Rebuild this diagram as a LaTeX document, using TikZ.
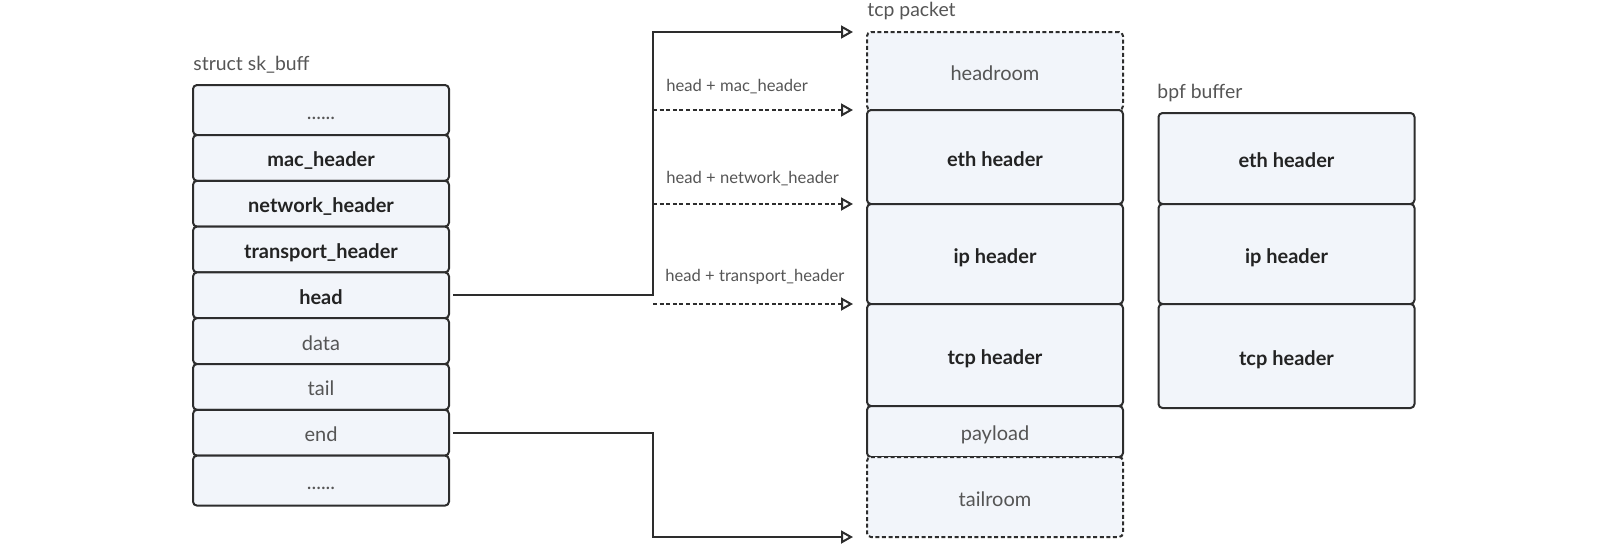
\documentclass[tikz,border=0pt]{standalone}
\usepackage{fontspec}
\setmainfont{Lato}
\usetikzlibrary{arrows.meta,positioning}
\definecolor{cellfill}{RGB}{242,245,250}
\definecolor{celledge}{RGB}{45,45,45}
\definecolor{textdark}{RGB}{35,35,35}
\definecolor{textgray}{RGB}{85,85,85}

\begin{document}
\begin{tikzpicture}[x=0.5pt,y=-0.5pt,
  cell/.style={rectangle, rounded corners=2pt, draw=celledge, fill=cellfill, line width=1pt, minimum width=128pt, inner sep=0pt, outer sep=0pt, text height=9pt, text depth=0pt, font=\fontsize{10}{12}\selectfont, text=textgray},
  hdr/.style={font=\fontsize{10}{12}\selectfont\bfseries, text=textdark},
  room/.style={dash pattern=on 2pt off 1.3pt},
  caption/.style={anchor=base west, inner sep=0pt, font=\fontsize{9.7}{11}\selectfont, text=textgray},
  ptr/.style={-{Triangle[open,length=6pt,width=6.5pt]}, line width=1pt, draw=celledge, shorten >=7pt},
  offs/.style={ptr, dash pattern=on 2pt off 1.3pt},
  offlabel/.style={anchor=base west, inner sep=0pt, font=\fontsize{8.3}{10}\selectfont, text=textgray}]
\useasboundingbox (0,0) rectangle (1614,558);

% struct sk_buff
\node[caption] (sktitle) at (193,70) {struct sk\_buff};
\node[cell, anchor=north, minimum height=25pt] (skdots1) at (321,85) {......};
\node[cell, hdr, minimum height=22.9pt, below=0pt of skdots1] (machdr) {mac\_header};
\node[cell, hdr, minimum height=22.9pt, below=0pt of machdr] (nethdr) {network\_header};
\node[cell, hdr, minimum height=22.9pt, below=0pt of nethdr] (transhdr) {transport\_header};
\node[cell, hdr, minimum height=22.9pt, below=0pt of transhdr] (head) {head};
\node[cell, minimum height=22.9pt, below=0pt of head] (data) {data};
\node[cell, minimum height=22.9pt, below=0pt of data] (tail) {tail};
\node[cell, minimum height=22.9pt, below=0pt of tail] (endf) {end};
\node[cell, minimum height=25pt, below=0pt of endf] (skdots2) {......};

% tcp packet
\node[caption] (tcptitle) at (867,16) {tcp packet};
\node[cell, room, anchor=north, minimum height=39pt] (headroom) at (995,32) {headroom};
\node[cell, hdr, minimum height=47pt, below=0pt of headroom] (etheth) {eth header};
\node[cell, hdr, minimum height=50pt, below=0pt of etheth] (iphdr) {ip header};
\node[cell, hdr, minimum height=51pt, below=0pt of iphdr] (tcphdr) {tcp header};
\node[cell, minimum height=25.5pt, below=0pt of tcphdr] (payload) {payload};
\node[cell, room, minimum height=40pt, below=0pt of payload] (tailroom) {tailroom};

% bpf buffer
\node[caption] (bpftitle) at (1157,98) {bpf buffer};
\node[cell, hdr, anchor=north, minimum height=45.5pt] (bpfeth) at (1286.5,113) {eth header};
\node[cell, hdr, minimum height=50pt, below=0pt of bpfeth] (bpfip) {ip header};
\node[cell, hdr, minimum height=52pt, below=0pt of bpfip] (bpftcp) {tcp header};

% pointers
\coordinate (bus) at (653,0);
\draw[ptr, shorten <=2pt] (head.east) -- (head.east -| bus) |- (headroom.north west);
\draw[ptr, shorten <=2pt] (endf.east) -- (endf.east -| bus) |- (tailroom.south west);
\draw[offs] (bus |- etheth.north west) -- (etheth.north west);
\draw[offs] (bus |- iphdr.north west) -- (iphdr.north west);
\draw[offs] (bus |- tcphdr.north west) -- (tcphdr.north west);
\node[offlabel] (macoff) at (666,91) {head + mac\_header};
\node[offlabel] (netoff) at (666,183) {head + network\_header};
\node[offlabel] (transoff) at (665,281) {head + transport\_header};
\end{tikzpicture}
\end{document}
